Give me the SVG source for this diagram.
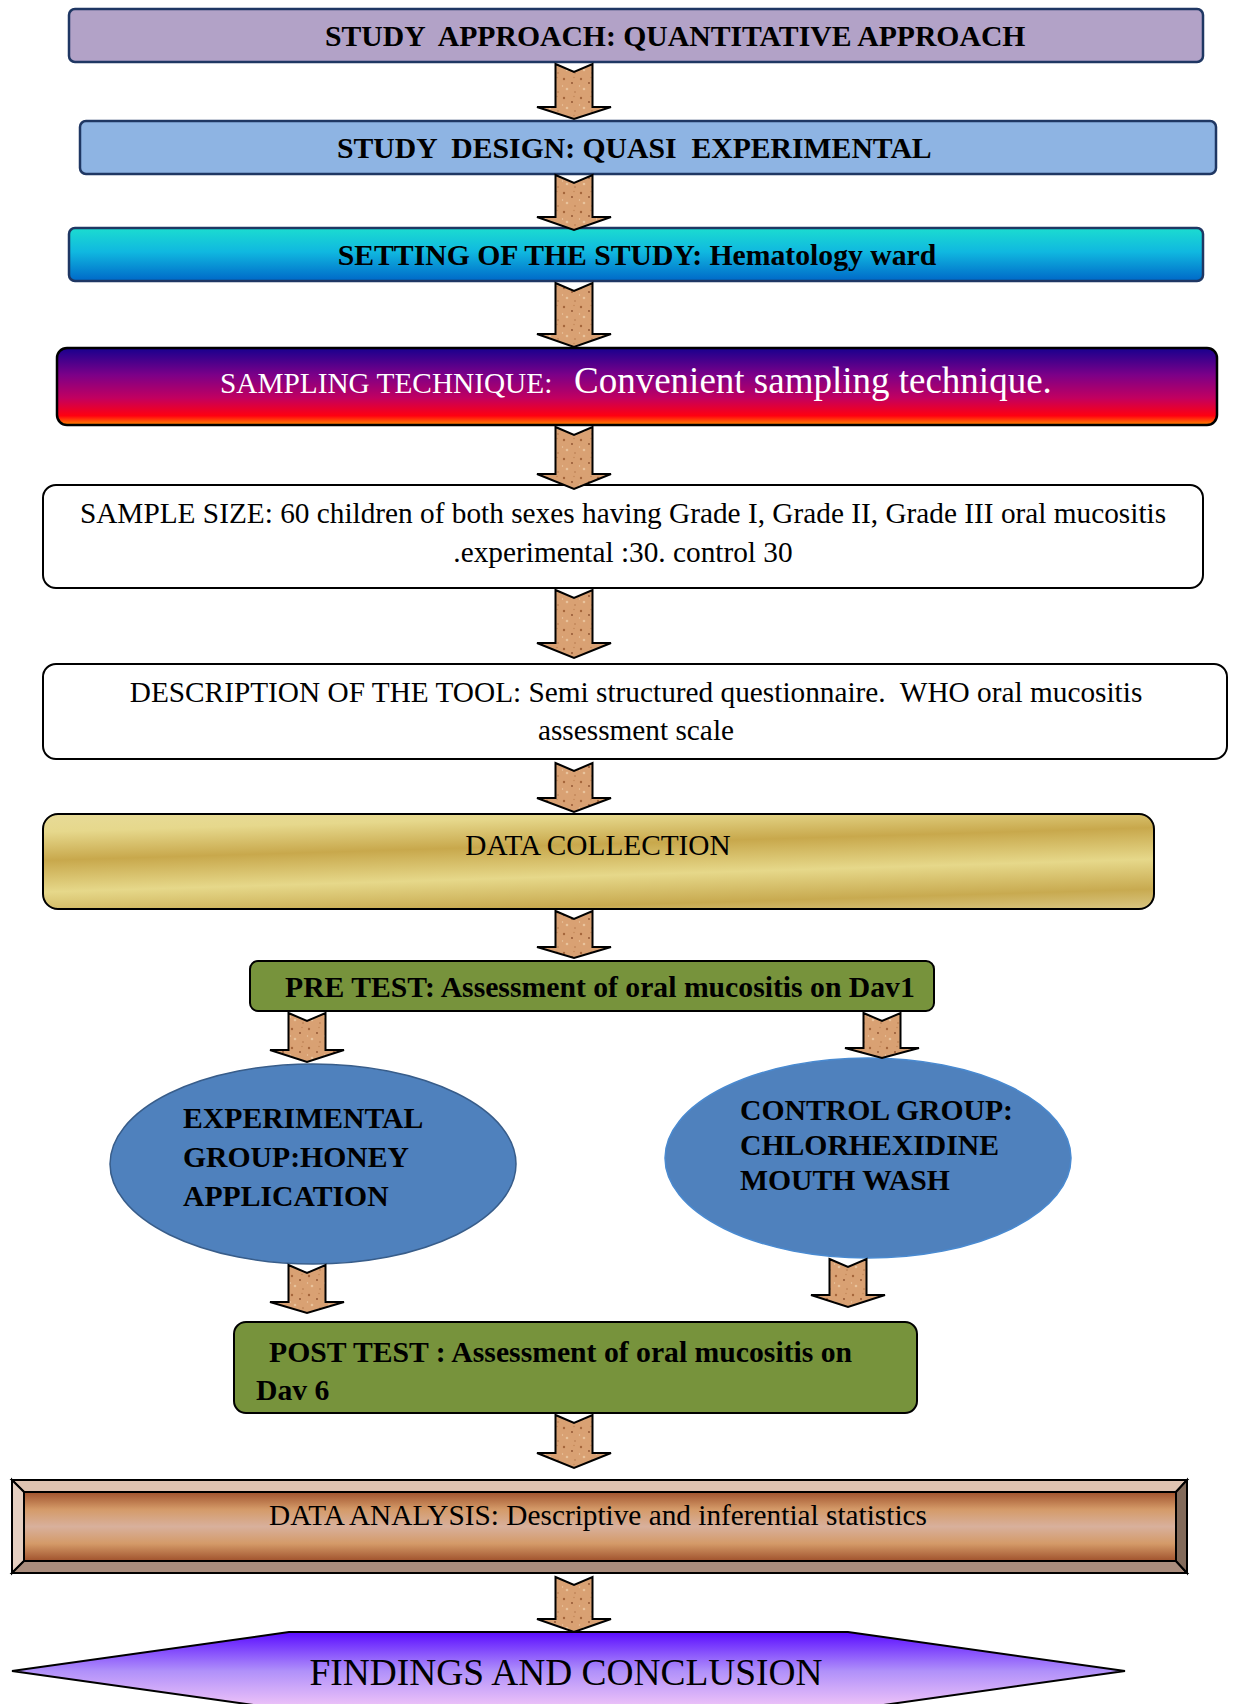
<svg xmlns="http://www.w3.org/2000/svg" width="1238" height="1704" viewBox="0 0 1238 1704">
<style>
.t{font-family:"Liberation Serif","Times New Roman",serif;font-size:29.3px;fill:#000}
.b{font-weight:bold;font-size:29.7px}
.m{text-anchor:middle}
.arr{fill:url(#cork);stroke:#000;stroke-width:2;stroke-linejoin:miter}
.bev{stroke:#000;stroke-width:2;stroke-linejoin:miter}
</style>
<defs>
<pattern id="cork" width="17" height="19" patternUnits="userSpaceOnUse">
<rect width="17" height="19" fill="#d9a173"/>
<circle cx="3" cy="3" r="1.2" fill="#a5653a"/>
<circle cx="11" cy="7" r="0.9" fill="#8c4f2c"/>
<circle cx="6" cy="13" r="1.3" fill="#e9c39c"/>
<circle cx="14" cy="16" r="0.8" fill="#b3764a"/>
<circle cx="1.5" cy="10" r="0.7" fill="#edcaa5"/>
<circle cx="13" cy="1.5" r="0.8" fill="#c48858"/>
</pattern>
<linearGradient id="gCyan" x1="0" y1="0" x2="0" y2="1">
<stop offset="0" stop-color="#1cdcd0"/>
<stop offset="0.45" stop-color="#10b8e0"/>
<stop offset="1" stop-color="#0068c8"/>
</linearGradient>
<linearGradient id="gFire" x1="0" y1="0" x2="0" y2="1">
<stop offset="0" stop-color="#18008e"/>
<stop offset="0.35" stop-color="#7c0088"/>
<stop offset="0.65" stop-color="#c20060"/>
<stop offset="0.88" stop-color="#ff0010"/>
<stop offset="1" stop-color="#ff8a00"/>
</linearGradient>
<linearGradient id="gGold" gradientUnits="userSpaceOnUse" x1="600" y1="790" x2="600" y2="940" gradientTransform="rotate(-1.7 600 861)">
<stop offset="0" stop-color="#e8dc9c"/>
<stop offset="0.17" stop-color="#e6d88c"/>
<stop offset="0.36" stop-color="#c8a84c"/>
<stop offset="0.57" stop-color="#e6d88a"/>
<stop offset="0.77" stop-color="#c8aa50"/>
<stop offset="1" stop-color="#e6dca8"/>
</linearGradient>
<linearGradient id="gCopper" x1="0" y1="0" x2="0" y2="1">
<stop offset="0" stop-color="#a0522d"/>
<stop offset="0.25" stop-color="#d49a68"/>
<stop offset="0.5" stop-color="#d8b09c"/>
<stop offset="0.75" stop-color="#d49a68"/>
<stop offset="1" stop-color="#a0522d"/>
</linearGradient>
<linearGradient id="gViolet" x1="0" y1="0" x2="0" y2="1">
<stop offset="0" stop-color="#5a0cff"/>
<stop offset="0.5" stop-color="#b090fa"/>
<stop offset="1" stop-color="#f4c8f8"/>
</linearGradient>
</defs>

<g id="study-approach">
<rect x="69" y="9" width="1134" height="53" rx="6" fill="#b2a2c7" stroke="#1f3763" stroke-width="2.5"/>
<text class="t b" x="325" y="46" xml:space="preserve">STUDY  APPROACH: QUANTITATIVE APPROACH</text>
</g>
<g id="study-design">
<rect x="80" y="121" width="1136" height="53" rx="6" fill="#8eb4e3" stroke="#1f3763" stroke-width="2.5"/>
<text class="t b" x="337" y="158" xml:space="preserve">STUDY  DESIGN: QUASI  EXPERIMENTAL</text>
</g>
<g id="setting">
<rect x="69" y="228" width="1134" height="53" rx="6" fill="url(#gCyan)" stroke="#1f3763" stroke-width="2.5"/>
<text class="t b m" x="637" y="265">SETTING OF THE STUDY: Hematology ward</text>
</g>
<g id="sampling-technique">
<rect x="57" y="348" width="1160" height="77" rx="10" fill="url(#gFire)" stroke="#000" stroke-width="2.5"/>
<text class="t" x="220" y="393" style="fill:#fff"><tspan>SAMPLING TECHNIQUE:</tspan><tspan x="574" style="font-size:37px">Convenient sampling technique.</tspan></text>
</g>
<g id="sample-size">
<rect x="43" y="485" width="1160" height="103" rx="13" fill="#fff" stroke="#000" stroke-width="2"/>
<text class="t m" x="623" y="523">SAMPLE SIZE: 60 children of both sexes having Grade I, Grade II, Grade III oral mucositis</text>
<text class="t m" x="623" y="562">.experimental :30. control 30</text>
</g>
<g id="description-tool">
<rect x="43" y="664" width="1184" height="95" rx="13" fill="#fff" stroke="#000" stroke-width="2"/>
<text class="t m" x="636" y="702" xml:space="preserve">DESCRIPTION OF THE TOOL: Semi structured questionnaire.  WHO oral mucositis</text>
<text class="t m" x="636" y="740">assessment scale</text>
</g>
<g id="data-collection">
<rect x="43" y="814" width="1111" height="95" rx="15" fill="url(#gGold)" stroke="#000" stroke-width="2"/>
<text class="t m" x="598" y="855">DATA COLLECTION</text>
</g>
<g id="pre-test">
<rect x="250" y="961" width="684" height="50" rx="8" fill="#77933c" stroke="#000" stroke-width="2"/>
<text class="t b" x="285" y="997">PRE TEST: Assessment of oral mucositis on Dav1</text>
</g>
<g id="experimental-group">
<ellipse cx="313" cy="1164" rx="203" ry="100" fill="#4f81bd" stroke="#385d8a" stroke-width="1.5"/>
<text class="t b" x="183" y="1128">EXPERIMENTAL</text>
<text class="t b" x="183" y="1167">GROUP:HONEY</text>
<text class="t b" x="183" y="1206">APPLICATION</text>
</g>
<g id="control-group">
<ellipse cx="868" cy="1158" rx="203" ry="100" fill="#4f81bd" stroke="#4a8ad0" stroke-width="1.5"/>
<text class="t b" x="740" y="1120">CONTROL GROUP:</text>
<text class="t b" x="740" y="1155">CHLORHEXIDINE</text>
<text class="t b" x="740" y="1190">MOUTH WASH</text>
</g>
<g id="post-test">
<rect x="234" y="1322" width="683" height="91" rx="12" fill="#77933c" stroke="#000" stroke-width="2"/>
<text class="t b" x="269" y="1362">POST TEST : Assessment of oral mucositis on</text>
<text class="t b" x="256" y="1400">Dav 6</text>
</g>
<g id="data-analysis">
<rect x="24" y="1492" width="1152" height="69" fill="url(#gCopper)"/>
<polygon class="bev" points="12,1480 1187,1480 1176,1492 24,1492" fill="#dfc3b1"/>
<polygon class="bev" points="12,1480 24,1492 24,1561 12,1573" fill="#e5cfc1"/>
<polygon class="bev" points="12,1573 24,1561 1176,1561 1187,1573" fill="#aa8d7d"/>
<polygon class="bev" points="1187,1480 1187,1573 1176,1561 1176,1492" fill="#826a5a"/>
<rect x="24" y="1492" width="1152" height="69" fill="none" stroke="#000" stroke-width="2"/>
<text class="t m" x="598" y="1525">DATA ANALYSIS: Descriptive and inferential statistics</text>
</g>
<g id="findings">
<polygon points="12,1671 289,1632 848,1632 1125,1671 848,1710 289,1710" fill="url(#gViolet)" stroke="#000" stroke-width="2"/>
<text class="t m" x="566" y="1685" style="font-size:37.4px">FINDINGS AND CONCLUSION</text>
</g>

<g id="connectors">
<polygon class="arr" points="555.5,64 574,72 592.5,64 592.5,107 611,107 574,119 537,107 555.5,107"/>
<polygon class="arr" points="555.5,175 574,183 592.5,175 592.5,217 611,217 574,230 537,217 555.5,217"/>
<polygon class="arr" points="555.5,283 574,291 592.5,283 592.5,334 611,334 574,347 537,334 555.5,334"/>
<polygon class="arr" points="555.5,427 574,435 592.5,427 592.5,474 611,474 574,489 537,474 555.5,474"/>
<polygon class="arr" points="555.5,590 574,598 592.5,590 592.5,643 611,643 574,658 537,643 555.5,643"/>
<polygon class="arr" points="555.5,763 574,771 592.5,763 592.5,798 611,798 574,812 537,798 555.5,798"/>
<polygon class="arr" points="555.5,911 574,919 592.5,911 592.5,947 611,947 574,958 537,947 555.5,947"/>
<polygon class="arr" points="288.5,1013 307,1021 325.5,1013 325.5,1050 344,1050 307,1062 270,1050 288.5,1050"/>
<polygon class="arr" points="863.5,1013 882,1021 900.5,1013 900.5,1048 919,1048 882,1058 845,1048 863.5,1048"/>
<polygon class="arr" points="288.5,1265 307,1273 325.5,1265 325.5,1302 344,1302 307,1313 270,1302 288.5,1302"/>
<polygon class="arr" points="829.5,1259 848,1267 866.5,1259 866.5,1295 885,1295 848,1307 811,1295 829.5,1295"/>
<polygon class="arr" points="555.5,1415 574,1423 592.5,1415 592.5,1453 611,1453 574,1468 537,1453 555.5,1453"/>
<polygon class="arr" points="555.5,1577 574,1585 592.5,1577 592.5,1619 611,1619 574,1632 537,1619 555.5,1619"/>
</g>
</svg>
